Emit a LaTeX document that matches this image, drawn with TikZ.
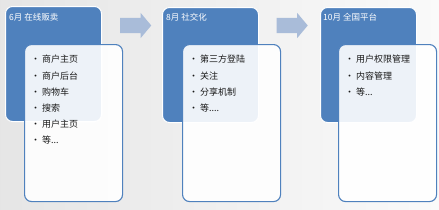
\documentclass[tikz,border=0pt]{standalone}
\usepackage{fontspec}
\newfontfamily\cjk{Noto Sans CJK SC}
\usetikzlibrary{shapes.arrows}
\definecolor{phaseblue}{HTML}{4F81BD}
\definecolor{arrowblue}{HTML}{A9BCD9}
\tikzset{
  phase/.style={draw=white, line width=1pt, fill=phaseblue, rounded corners=7pt,
    minimum width=96pt, minimum height=115pt, anchor=north west, inner sep=0pt},
  title/.style={anchor=west, text=white, font=\cjk\fontsize{8.5}{10}\selectfont, inner sep=0pt},
  detail/.style={draw=phaseblue, line width=1.1pt, fill=white, fill opacity=0.9,
    rounded corners=7pt, minimum width=98pt, minimum height=157pt, anchor=north west},
  items/.style={anchor=north west, align=left, inner sep=0pt, text=black!90,
    font=\cjk\fontsize{9}{16.2}\selectfont},
  stage/.style={single arrow, fill=arrowblue, draw=none, minimum height=31pt,
    single arrow head extend=5pt, single arrow head indent=0pt,
    single arrow tip angle=100, inner sep=0pt}
}
\begin{document}
\begin{tikzpicture}[x=1pt,y=-1pt]
\shade[left color=gray!20, right color=gray!4] (0,0) rectangle (439,209);
\useasboundingbox (0,0) rectangle (439,209);
% stages
\node[phase] (jun) at (5,6) {};
\node[phase] (aug) at (162,7) {};
\node[phase] (oct) at (320,7) {};
\node[title] (junt) at (9,17) {6月 在线贩卖};
\node[title] (augt) at (166,17) {8月 社交化};
\node[title] (octt) at (323,17) {10月 全国平台};
% details
\node[detail] (junb) at (24,44) {};
\node[detail] (augb) at (182,44) {};
\node[detail] (octb) at (338,44) {};
\node[items] (junl) at (31,55) {• 商户主页\\• 商户后台\\• 购物车\\• 搜索\\• 用户主页\\• 等...};
\node[items] (augl) at (189,55) {• 第三方登陆\\• 关注\\• 分享机制\\• 等....};
\node[items] (octl) at (345,55) {• 用户权限管理\\• 内容管理\\• 等...};
% arrows
\node[stage] (a1) at (132.5,25.5) {\rule{0pt}{15pt}};
\node[stage] (a2) at (289,25.5) {\rule{0pt}{15pt}};
\end{tikzpicture}
\end{document}
